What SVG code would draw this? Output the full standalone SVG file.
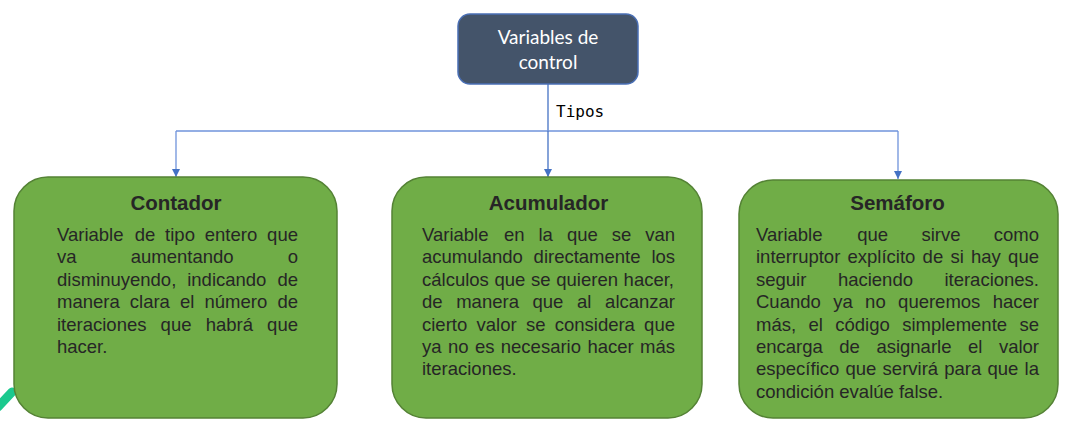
<svg xmlns="http://www.w3.org/2000/svg" width="1069" height="423" viewBox="0 0 1069 423">
<defs>
<style>
.box{fill:#70AD47;stroke:#548235;stroke-width:1.5}
.title{font-family:"Liberation Sans",Arial,sans-serif;font-weight:bold;font-size:20.5px;fill:#262626;text-anchor:middle}
.body{font-family:"Liberation Sans",Arial,sans-serif;font-size:18.5px;fill:#262626}
.conn{fill:none;stroke:#6F93DB;stroke-width:1.3}
.trunk{fill:none;stroke:#4472C4;stroke-width:1.3}
.head{font-family:Lato,"Noto Sans",sans-serif;font-size:19px;fill:#FFFFFF;text-anchor:middle}
</style>
<marker id="arr" viewBox="0 0 10 10" refX="10" refY="5" markerWidth="8" markerHeight="8" markerUnits="userSpaceOnUse" orient="auto">
<path d="M0,0 L10,5 L0,10 Z" fill="#4472C4"/>
</marker>
</defs>
<rect width="1069" height="423" fill="#FFFFFF"/>
<line x1="-2" y1="407" x2="12" y2="392" stroke="#1BC98E" stroke-width="9" stroke-linecap="round"/>
<g id="connectors">
<path class="trunk" d="M548,84 V131"/>
<path class="conn" d="M176,131 H898"/>
<path class="conn" d="M176,131 V177" marker-end="url(#arr)"/>
<path class="trunk" d="M548,131 V177" marker-end="url(#arr)"/>
<path class="conn" d="M898,131 V179" marker-end="url(#arr)"/>
<text x="556" y="117" style="font-family:'DejaVu Sans Mono','Liberation Mono',monospace;font-size:16px;fill:#000">Tipos</text>
</g>
<g id="root">
<rect x="458" y="14" width="180" height="70" rx="12" fill="#44546A" stroke="#4A6FB5" stroke-width="1.5"/>
<text class="head" x="548" y="44">Variables de</text>
<text class="head" x="548" y="69">control</text>
</g>
<g id="contador">
<rect class="box" x="14" y="177" width="323" height="241" rx="34"/>
<text class="title" x="176" y="209.5">Contador</text>
<text class="body" y="241"><tspan x="57">Variable</tspan> <tspan x="134.7">de</tspan> <tspan x="165.1">tipo</tspan> <tspan x="204.8">entero</tspan> <tspan x="267.1">que</tspan></text>
<text class="body" y="263.4"><tspan x="57">va</tspan> <tspan x="130.7">aumentando</tspan> <tspan x="287.7">o</tspan></text>
<text class="body" y="285.8"><tspan x="57">disminuyendo,</tspan> <tspan x="187.2">indicando</tspan> <tspan x="277.4">de</tspan></text>
<text class="body" y="308.2"><tspan x="57">manera</tspan> <tspan x="129.8">clara</tspan> <tspan x="180">el</tspan> <tspan x="204.5">número</tspan> <tspan x="277.4">de</tspan></text>
<text class="body" y="330.6"><tspan x="57">iteraciones</tspan> <tspan x="160.6">que</tspan> <tspan x="205.7">habrá</tspan> <tspan x="267.1">que</tspan></text>
<text class="body" y="353" x="57">hacer.</text>
</g>
<g id="acumulador">
<rect class="box" x="392" y="177" width="310" height="241" rx="34"/>
<text class="title" x="548.5" y="209.5">Acumulador</text>
<text class="body" y="241"><tspan x="422">Variable</tspan> <tspan x="503.9">en</tspan> <tspan x="538.5">la</tspan> <tspan x="566.9">que</tspan> <tspan x="611.8">se</tspan> <tspan x="645.2">van</tspan></text>
<text class="body" y="263.4"><tspan x="422">acumulando</tspan> <tspan x="533.6">directamente</tspan> <tspan x="651.4">los</tspan></text>
<text class="body" y="285.8"><tspan x="422">cálculos</tspan> <tspan x="494.5">que</tspan> <tspan x="531.1">se</tspan> <tspan x="556.3">quieren</tspan> <tspan x="623.6">hacer,</tspan></text>
<text class="body" y="308.2"><tspan x="422">de</tspan> <tspan x="456.2">manera</tspan> <tspan x="532.5">que</tspan> <tspan x="577">al</tspan> <tspan x="605.1">alcanzar</tspan></text>
<text class="body" y="330.6"><tspan x="422">cierto</tspan> <tspan x="476.5">valor</tspan> <tspan x="525.9">se</tspan> <tspan x="554.7">considera</tspan> <tspan x="644.1">que</tspan></text>
<text class="body" y="353"><tspan x="422">ya</tspan> <tspan x="447.9">no</tspan> <tspan x="474.9">es</tspan> <tspan x="500.8">necesario</tspan> <tspan x="587.4">hacer</tspan> <tspan x="640.1">más</tspan></text>
<text class="body" y="375.4" x="422">iteraciones.</text>
</g>
<g id="semaforo">
<rect class="box" x="739" y="180" width="319" height="238" rx="34"/>
<text class="title" x="897.5" y="210">Semáforo</text>
<text class="body" y="241"><tspan x="756">Variable</tspan> <tspan x="857.2">que</tspan> <tspan x="921.4">sirve</tspan> <tspan x="993.8">como</tspan></text>
<text class="body" y="263.4"><tspan x="756">interruptor</tspan> <tspan x="847.5">explícito</tspan> <tspan x="922.6">de</tspan> <tspan x="950.4">si</tspan> <tspan x="971">hay</tspan> <tspan x="1008.1">que</tspan></text>
<text class="body" y="285.8"><tspan x="756">seguir</tspan> <tspan x="837.9">haciendo</tspan> <tspan x="944.4">iteraciones.</tspan></text>
<text class="body" y="308.2"><tspan x="756">Cuando</tspan> <tspan x="833.2">ya</tspan> <tspan x="865.1">no</tspan> <tspan x="898.1">queremos</tspan> <tspan x="992.7">hacer</tspan></text>
<text class="body" y="330.6"><tspan x="756">más,</tspan> <tspan x="808.5">el</tspan> <tspan x="835.3">código</tspan> <tspan x="902.2">simplemente</tspan> <tspan x="1019.5">se</tspan></text>
<text class="body" y="353"><tspan x="756">encarga</tspan> <tspan x="839.3">de</tspan> <tspan x="876.4">asignarle</tspan> <tspan x="968">el</tspan> <tspan x="998.9">valor</tspan></text>
<text class="body" y="375.4"><tspan x="756">específico</tspan> <tspan x="845.5">que</tspan> <tspan x="882.6">servirá</tspan> <tspan x="944.3">para</tspan> <tspan x="987.5">que</tspan> <tspan x="1024.6">la</tspan></text>
<text class="body" y="397.8" x="756">condición evalúe false.</text>
</g>
</svg>
